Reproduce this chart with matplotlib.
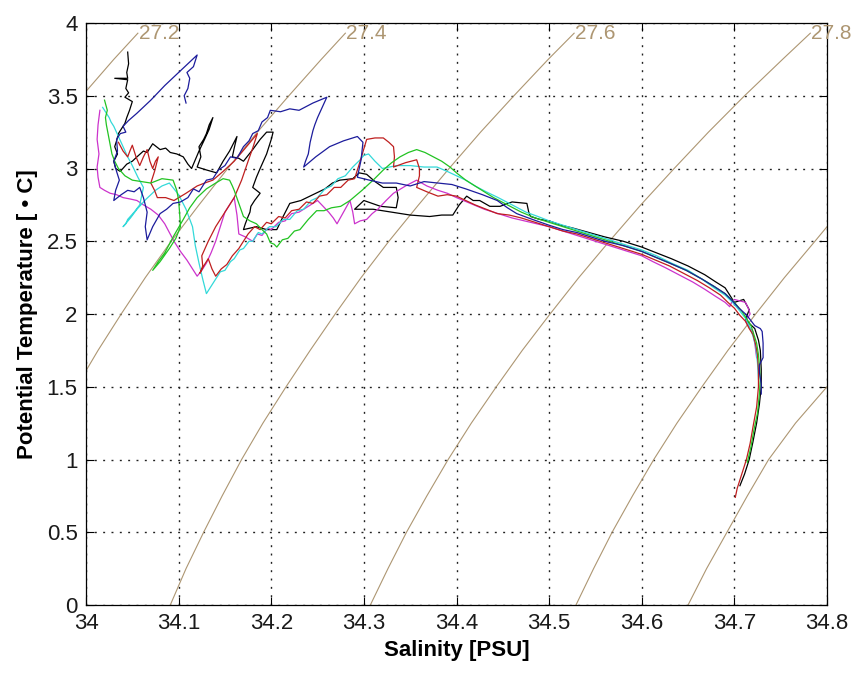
import matplotlib

matplotlib.use("Agg")
import matplotlib.pyplot as plt

plt.rcParams["font.family"] = ["Liberation Sans", "DejaVu Sans"]

OUTPUT_PATH = "out.png"

SAL_TICKS = [34.0, 34.1, 34.2, 34.3, 34.4, 34.5, 34.6, 34.7, 34.8]
SAL_TICK_LABELS = ["34", "34.1", "34.2", "34.3", "34.4", "34.5", "34.6", "34.7", "34.8"]
TEMP_TICKS = [0.0, 0.5, 1.0, 1.5, 2.0, 2.5, 3.0, 3.5, 4.0]
TEMP_TICK_LABELS = ["0", "0.5", "1", "1.5", "2", "2.5", "3", "3.5", "4"]

# isopycnals (sigma-theta) as (salinity, temperature) vertices
ISO_272 = [(34.000, 3.53), (34.030, 3.75), (34.056, 3.93)]
ISO_274 = [(34.000, 1.61), (34.013, 1.75), (34.038, 2.00), (34.064, 2.25),
           (34.092, 2.50), (34.122, 2.75), (34.153, 3.00), (34.185, 3.25),
           (34.219, 3.50), (34.254, 3.75), (34.280, 3.93)]
ISO_276 = [(34.091, 0.00), (34.108, 0.25), (34.127, 0.50), (34.147, 0.75),
           (34.168, 1.00), (34.191, 1.25), (34.216, 1.50), (34.242, 1.75),
           (34.269, 2.00), (34.297, 2.25), (34.327, 2.50), (34.359, 2.75),
           (34.392, 3.00), (34.426, 3.25), (34.462, 3.50), (34.499, 3.75),
           (34.527, 3.93)]
ISO_278 = [(34.307, 0.00), (34.326, 0.25), (34.346, 0.50), (34.368, 0.75),
           (34.391, 1.00), (34.416, 1.25), (34.443, 1.50), (34.471, 1.75),
           (34.501, 2.00), (34.532, 2.25), (34.565, 2.50), (34.599, 2.75),
           (34.635, 3.00), (34.672, 3.25), (34.711, 3.50), (34.752, 3.75),
           (34.782, 3.93)]
ISO_280 = [(34.529, 0.00), (34.548, 0.25), (34.568, 0.50), (34.590, 0.75),
           (34.613, 1.00), (34.638, 1.25), (34.665, 1.50), (34.693, 1.75),
           (34.723, 2.00), (34.754, 2.25), (34.787, 2.50), (34.800, 2.60)]
ISO_282 = [(34.650, 0.00), (34.670, 0.25), (34.692, 0.50), (34.714, 0.75),
           (34.737, 1.00), (34.766, 1.25), (34.800, 1.50)]

ISOPYCNALS = [(ISO_272, "27.2"), (ISO_274, "27.4"), (ISO_276, "27.6"),
              (ISO_278, "27.8"), (ISO_280, ""), (ISO_282, "")]

# CTD casts as (salinity [PSU], potential temperature [deg C])
BLACK_PROFILE = [
    (34.045, 3.80), (34.046, 3.72), (34.044, 3.66), (34.045, 3.62), (34.031, 3.62),
    (34.045, 3.61), (34.043, 3.55), (34.046, 3.52), (34.042, 3.49), (34.050, 3.46),
    (34.047, 3.40), (34.044, 3.35), (34.042, 3.31), (34.038, 3.27), (34.035, 3.24),
    (34.033, 3.19), (34.031, 3.15), (34.034, 3.10), (34.030, 3.05), (34.032, 3.00),
    (34.037, 2.98), (34.044, 3.03), (34.050, 3.05), (34.055, 3.08), (34.062, 3.12),
    (34.066, 3.11), (34.072, 3.17), (34.080, 3.13), (34.086, 3.14), (34.091, 3.11),
    (34.098, 3.10), (34.105, 3.08), (34.110, 3.03), (34.114, 3.00), (34.122, 3.12),
    (34.128, 3.20), (34.133, 3.27), (34.137, 3.35), (34.133, 3.30), (34.130, 3.24),
    (34.127, 3.20), (34.122, 3.15), (34.124, 3.08), (34.120, 3.01), (34.130, 2.99),
    (34.141, 2.97), (34.148, 3.05), (34.155, 3.12), (34.163, 3.22), (34.160, 3.14),
    (34.158, 3.08), (34.165, 3.07), (34.170, 3.05), (34.180, 3.13), (34.188, 3.20),
    (34.195, 3.25), (34.202, 3.25), (34.200, 3.20), (34.195, 3.10), (34.188, 3.00),
    (34.184, 2.94), (34.180, 2.87), (34.188, 2.83), (34.182, 2.78), (34.178, 2.74),
    (34.177, 2.70), (34.175, 2.67), (34.172, 2.62), (34.170, 2.58), (34.177, 2.59),
    (34.184, 2.60), (34.195, 2.58), (34.206, 2.58), (34.212, 2.66), (34.220, 2.76),
    (34.232, 2.78), (34.245, 2.82), (34.258, 2.86), (34.266, 2.90), (34.274, 2.92),
    (34.288, 2.93), (34.295, 2.97), (34.303, 2.96), (34.312, 2.91), (34.321, 2.87),
    (34.335, 2.87), (34.337, 2.80), (34.335, 2.73), (34.318, 2.74), (34.300, 2.78),
    (34.295, 2.75), (34.290, 2.72), (34.310, 2.72), (34.330, 2.70), (34.350, 2.68),
    (34.371, 2.67), (34.384, 2.68), (34.396, 2.68), (34.403, 2.75), (34.411, 2.81),
    (34.418, 2.78), (34.425, 2.78), (34.436, 2.74), (34.447, 2.74), (34.460, 2.77),
    (34.476, 2.76), (34.478, 2.70), (34.480, 2.67), (34.490, 2.65), (34.500, 2.64),
    (34.513, 2.61), (34.526, 2.59), (34.543, 2.56), (34.560, 2.53), (34.580, 2.50),
    (34.600, 2.46), (34.616, 2.42), (34.632, 2.38), (34.650, 2.33), (34.668, 2.27),
    (34.680, 2.22), (34.690, 2.18), (34.696, 2.12), (34.700, 2.08), (34.710, 2.10),
    (34.716, 2.03), (34.712, 1.96), (34.722, 1.90), (34.726, 1.82), (34.728, 1.75),
    (34.729, 1.62), (34.729, 1.50), (34.727, 1.38), (34.724, 1.25), (34.720, 1.12),
    (34.716, 1.00), (34.711, 0.90), (34.706, 0.82),
]

BLUE_PROFILE = [
    (34.108, 3.45), (34.106, 3.50), (34.110, 3.55), (34.112, 3.62), (34.109, 3.66),
    (34.116, 3.70), (34.118, 3.74), (34.120, 3.78), (34.100, 3.66), (34.085, 3.57),
    (34.070, 3.47), (34.055, 3.38), (34.046, 3.33), (34.040, 3.29), (34.043, 3.25),
    (34.037, 3.24), (34.033, 3.20), (34.034, 3.12), (34.030, 3.05), (34.033, 2.98),
    (34.036, 2.92), (34.032, 2.85), (34.030, 2.78), (34.038, 2.82), (34.045, 2.85),
    (34.052, 2.84), (34.058, 2.87), (34.062, 2.80), (34.066, 2.70), (34.064, 2.60),
    (34.066, 2.51), (34.072, 2.60), (34.080, 2.69), (34.087, 2.72), (34.094, 2.76),
    (34.102, 2.77), (34.110, 2.80), (34.116, 2.86), (34.122, 2.84), (34.130, 2.92),
    (34.137, 2.93), (34.143, 2.99), (34.150, 3.02), (34.156, 3.08), (34.163, 3.07),
    (34.170, 3.15), (34.176, 3.19), (34.180, 3.24), (34.186, 3.26), (34.190, 3.32),
    (34.196, 3.35), (34.199, 3.40), (34.210, 3.39), (34.220, 3.41), (34.230, 3.40),
    (34.245, 3.45), (34.260, 3.49), (34.255, 3.42), (34.250, 3.35), (34.247, 3.30),
    (34.245, 3.26), (34.242, 3.18), (34.240, 3.10), (34.237, 3.05), (34.235, 3.01),
    (34.248, 3.08), (34.263, 3.15), (34.278, 3.19), (34.293, 3.22), (34.299, 3.18),
    (34.298, 3.12), (34.297, 3.06), (34.295, 3.00), (34.293, 2.94), (34.306, 2.92),
    (34.320, 2.90), (34.335, 2.90), (34.350, 2.88), (34.365, 2.91), (34.380, 2.90),
    (34.395, 2.89), (34.410, 2.86), (34.428, 2.82), (34.444, 2.78), (34.455, 2.73),
    (34.465, 2.69), (34.482, 2.65), (34.500, 2.61), (34.515, 2.58), (34.530, 2.56),
    (34.545, 2.53), (34.560, 2.50), (34.580, 2.47), (34.600, 2.43), (34.615, 2.39),
    (34.630, 2.35), (34.648, 2.30), (34.665, 2.24), (34.678, 2.19), (34.690, 2.14),
    (34.698, 2.09), (34.705, 2.04), (34.712, 2.00), (34.716, 1.97), (34.722, 1.92),
    (34.728, 1.90), (34.730, 1.88), (34.731, 1.80), (34.731, 1.70), (34.727, 1.65),
    (34.727, 1.60), (34.729, 1.52), (34.729, 1.45),
]

RED_PROFILE = [
    (34.035, 3.18), (34.040, 3.12), (34.045, 3.08), (34.048, 3.13), (34.050, 3.16),
    (34.054, 3.08), (34.058, 3.02), (34.062, 3.08), (34.066, 3.13), (34.069, 3.05),
    (34.072, 3.00), (34.075, 3.05), (34.078, 3.08), (34.074, 2.98), (34.070, 2.90),
    (34.074, 2.85), (34.077, 2.80), (34.086, 2.80), (34.095, 2.78), (34.108, 2.83),
    (34.120, 2.88), (34.128, 2.90), (34.137, 2.92), (34.148, 2.98), (34.160, 3.05),
    (34.172, 3.14), (34.185, 3.24), (34.180, 3.14), (34.175, 3.05), (34.168, 2.92),
    (34.160, 2.80), (34.150, 2.70), (34.140, 2.60), (34.132, 2.50), (34.125, 2.40),
    (34.126, 2.33), (34.123, 2.28), (34.128, 2.34), (34.132, 2.38), (34.136, 2.31),
    (34.140, 2.26), (34.146, 2.31), (34.152, 2.34), (34.158, 2.40), (34.165, 2.45),
    (34.170, 2.50), (34.175, 2.55), (34.182, 2.60), (34.188, 2.58), (34.195, 2.63),
    (34.200, 2.62), (34.208, 2.67), (34.215, 2.66), (34.222, 2.71), (34.230, 2.72),
    (34.238, 2.77), (34.245, 2.76), (34.252, 2.81), (34.260, 2.82), (34.268, 2.87),
    (34.275, 2.87), (34.283, 2.92), (34.290, 2.93), (34.296, 3.05), (34.303, 3.20),
    (34.312, 3.21), (34.321, 3.21), (34.327, 3.18), (34.332, 3.15), (34.333, 3.08),
    (34.332, 3.01), (34.345, 3.04), (34.357, 3.06), (34.360, 3.00), (34.360, 2.95),
    (34.357, 2.87), (34.368, 2.84), (34.380, 2.81), (34.390, 2.82), (34.400, 2.81),
    (34.410, 2.78), (34.420, 2.75), (34.432, 2.72), (34.444, 2.69), (34.457, 2.68),
    (34.470, 2.66), (34.485, 2.63), (34.500, 2.60), (34.515, 2.57), (34.530, 2.55),
    (34.545, 2.52), (34.560, 2.49), (34.580, 2.45), (34.600, 2.41), (34.615, 2.37),
    (34.630, 2.33), (34.645, 2.28), (34.660, 2.23), (34.673, 2.18), (34.685, 2.13),
    (34.693, 2.08), (34.700, 2.04), (34.706, 1.99), (34.712, 1.95), (34.716, 1.90),
    (34.720, 1.86), (34.723, 1.79), (34.725, 1.72), (34.726, 1.61), (34.726, 1.50),
    (34.724, 1.36), (34.720, 1.22), (34.717, 1.11), (34.713, 1.00), (34.709, 0.92),
    (34.706, 0.86), (34.703, 0.80), (34.701, 0.74),
]

GREEN_PROFILE = [
    (34.020, 3.47), (34.023, 3.40), (34.021, 3.35), (34.022, 3.30), (34.025, 3.20),
    (34.028, 3.10), (34.031, 3.05), (34.035, 3.00), (34.042, 2.95), (34.050, 2.92),
    (34.060, 2.91), (34.070, 2.90), (34.082, 2.93), (34.094, 2.92), (34.098, 2.85),
    (34.100, 2.78), (34.101, 2.70), (34.102, 2.60), (34.097, 2.52), (34.090, 2.45),
    (34.080, 2.36), (34.072, 2.30), (34.078, 2.36), (34.085, 2.42), (34.095, 2.54),
    (34.105, 2.65), (34.112, 2.73), (34.120, 2.80), (34.130, 2.86), (34.140, 2.90),
    (34.148, 2.93), (34.155, 2.92), (34.158, 2.88), (34.160, 2.85), (34.165, 2.76),
    (34.170, 2.67), (34.177, 2.64), (34.184, 2.62), (34.190, 2.58), (34.195, 2.55),
    (34.199, 2.49), (34.203, 2.48), (34.206, 2.46), (34.212, 2.51), (34.218, 2.52),
    (34.225, 2.57), (34.231, 2.58), (34.240, 2.65), (34.249, 2.71), (34.257, 2.71),
    (34.265, 2.73), (34.275, 2.74), (34.285, 2.78), (34.298, 2.85), (34.310, 2.92),
    (34.321, 2.99), (34.330, 3.04), (34.339, 3.08), (34.348, 3.11), (34.357, 3.13),
    (34.366, 3.11), (34.375, 3.08), (34.384, 3.05), (34.393, 3.01), (34.400, 2.97),
    (34.410, 2.92), (34.425, 2.86), (34.440, 2.80), (34.455, 2.75), (34.470, 2.70),
    (34.485, 2.66), (34.500, 2.63), (34.530, 2.57), (34.560, 2.51), (34.580, 2.47),
    (34.600, 2.43), (34.630, 2.35), (34.648, 2.30), (34.665, 2.24), (34.678, 2.19),
    (34.690, 2.14), (34.700, 2.08), (34.708, 2.02), (34.713, 1.97), (34.718, 1.92),
    (34.721, 1.86), (34.724, 1.80), (34.726, 1.72), (34.727, 1.65), (34.728, 1.55),
    (34.727, 1.45), (34.725, 1.32), (34.721, 1.20), (34.718, 1.09), (34.714, 0.98),
]

CYAN_PROFILE = [
    (34.018, 3.42), (34.022, 3.38), (34.025, 3.35), (34.027, 3.32), (34.030, 3.29),
    (34.035, 3.22), (34.040, 3.15), (34.045, 3.08), (34.050, 3.02), (34.056, 2.94),
    (34.062, 2.87), (34.060, 2.81), (34.058, 2.75), (34.052, 2.70), (34.045, 2.65),
    (34.043, 2.62), (34.040, 2.60), (34.048, 2.66), (34.055, 2.72), (34.065, 2.79),
    (34.075, 2.85), (34.082, 2.88), (34.090, 2.90), (34.095, 2.86), (34.100, 2.82),
    (34.108, 2.72), (34.115, 2.60), (34.118, 2.47), (34.122, 2.35), (34.126, 2.24),
    (34.130, 2.14), (34.137, 2.21), (34.145, 2.29), (34.150, 2.30), (34.156, 2.36),
    (34.160, 2.38), (34.166, 2.44), (34.170, 2.45), (34.176, 2.50), (34.180, 2.50),
    (34.186, 2.56), (34.190, 2.55), (34.198, 2.60), (34.205, 2.60), (34.213, 2.65),
    (34.220, 2.65), (34.228, 2.71), (34.235, 2.72), (34.243, 2.78), (34.250, 2.80),
    (34.258, 2.86), (34.265, 2.88), (34.272, 2.93), (34.280, 2.95), (34.288, 3.01),
    (34.296, 3.06), (34.300, 3.09), (34.305, 3.10), (34.312, 3.05), (34.320, 3.00),
    (34.335, 3.02), (34.350, 3.02), (34.365, 3.01), (34.379, 3.01), (34.390, 2.98),
    (34.400, 2.95), (34.410, 2.92), (34.420, 2.88), (34.432, 2.84), (34.445, 2.80),
    (34.460, 2.75), (34.475, 2.70), (34.488, 2.67), (34.500, 2.64), (34.530, 2.58),
    (34.560, 2.52), (34.580, 2.48), (34.600, 2.44), (34.616, 2.40), (34.632, 2.35),
    (34.650, 2.30), (34.665, 2.24), (34.678, 2.18), (34.690, 2.13), (34.698, 2.08),
    (34.706, 2.02), (34.712, 1.97), (34.716, 1.92), (34.720, 1.85), (34.723, 1.78),
    (34.725, 1.66), (34.726, 1.55),
]

MAGENTA_PROFILE = [
    (34.015, 3.40), (34.013, 3.30), (34.012, 3.20), (34.014, 3.10), (34.012, 3.01),
    (34.013, 2.94), (34.015, 2.87), (34.020, 2.85), (34.026, 2.83), (34.033, 2.82),
    (34.040, 2.80), (34.048, 2.79), (34.055, 2.78), (34.062, 2.75), (34.070, 2.72),
    (34.078, 2.68), (34.085, 2.62), (34.090, 2.56), (34.095, 2.50), (34.102, 2.43),
    (34.109, 2.37), (34.115, 2.31), (34.120, 2.26), (34.125, 2.30), (34.130, 2.35),
    (34.135, 2.42), (34.140, 2.50), (34.145, 2.60), (34.150, 2.70), (34.155, 2.75),
    (34.160, 2.80), (34.163, 2.68), (34.165, 2.55), (34.172, 2.53), (34.180, 2.50),
    (34.185, 2.55), (34.190, 2.54), (34.196, 2.59), (34.200, 2.58), (34.208, 2.63),
    (34.215, 2.64), (34.222, 2.69), (34.230, 2.70), (34.240, 2.74), (34.250, 2.78),
    (34.256, 2.74), (34.262, 2.70), (34.267, 2.66), (34.271, 2.62), (34.278, 2.70),
    (34.285, 2.78), (34.288, 2.70), (34.290, 2.62), (34.296, 2.64), (34.303, 2.65),
    (34.309, 2.69), (34.315, 2.72), (34.324, 2.78), (34.332, 2.83), (34.345, 2.88),
    (34.357, 2.92), (34.368, 2.88), (34.380, 2.85), (34.390, 2.83), (34.400, 2.80),
    (34.415, 2.76), (34.430, 2.72), (34.445, 2.69), (34.460, 2.66), (34.480, 2.63),
    (34.500, 2.60), (34.530, 2.54), (34.560, 2.48), (34.580, 2.44), (34.600, 2.40),
    (34.612, 2.36), (34.625, 2.32), (34.640, 2.27), (34.655, 2.22), (34.668, 2.17),
    (34.680, 2.12), (34.690, 2.08), (34.695, 2.05), (34.697, 2.08), (34.700, 2.10),
    (34.706, 2.09), (34.712, 2.08), (34.715, 2.04), (34.717, 2.00), (34.712, 1.95),
    (34.716, 1.91), (34.720, 1.88), (34.722, 1.80), (34.724, 1.70),
]

PROFILE_STYLES = [
    (BLACK_PROFILE, "#000000"),
    (MAGENTA_PROFILE, "#cc33cc"),
    (CYAN_PROFILE, "#33d9d9"),
    (RED_PROFILE, "#bf1f1f"),
    (GREEN_PROFILE, "#22c322"),
    (BLUE_PROFILE, "#1c1c9c"),
]

ISO_COLOR = "#ad9672"


def unzip_points(points):
    sal = [p[0] for p in points]
    temp = [p[1] for p in points]
    return sal, temp


def plot_isopycnals(axis) -> None:
    for points, label in ISOPYCNALS:
        sal, temp = unzip_points(points)
        axis.plot(sal, temp, color=ISO_COLOR, linewidth=0.8, zorder=2)
        if label:
            axis.text(sal[-1] + 0.001, temp[-1], label, color=ISO_COLOR,
                      fontsize=15, ha="left", va="center", zorder=3)


def plot_profiles(axis) -> None:
    for points, color in PROFILE_STYLES:
        sal, temp = unzip_points(points)
        axis.plot(sal, temp, color=color, linewidth=0.9, zorder=4)


def main() -> None:
    figure = plt.figure(figsize=(8.59, 6.73), dpi=100)
    axis = figure.add_axes([86 / 859, 68 / 673, 741 / 859, 582 / 673])

    plot_isopycnals(axis)
    plot_profiles(axis)

    axis.set_xlim(34.0, 34.8)
    axis.set_ylim(0.0, 4.0)
    axis.set_xticks(SAL_TICKS)
    axis.set_xticklabels(SAL_TICK_LABELS)
    axis.set_yticks(TEMP_TICKS)
    axis.set_yticklabels(TEMP_TICK_LABELS)
    axis.tick_params(direction="in", length=5.8, width=0.8, top=True, right=True,
                     labelsize=16, labelcolor="#1a1a1a", pad=6)
    axis.grid(True, color="#202020", linewidth=1.0, linestyle=(0, (1.4, 4.6)))
    axis.set_axisbelow(True)
    for spine in axis.spines.values():
        spine.set_linewidth(0.9)

    axis.set_xlabel("Salinity [PSU]", fontsize=16, fontweight="bold", labelpad=4)
    axis.set_ylabel("Potential Temperature [ \u2022 C]", fontsize=16,
                    fontweight="bold", labelpad=6)

    figure.savefig(OUTPUT_PATH, dpi=100)
    plt.close(figure)


if __name__ == "__main__":
    main()
